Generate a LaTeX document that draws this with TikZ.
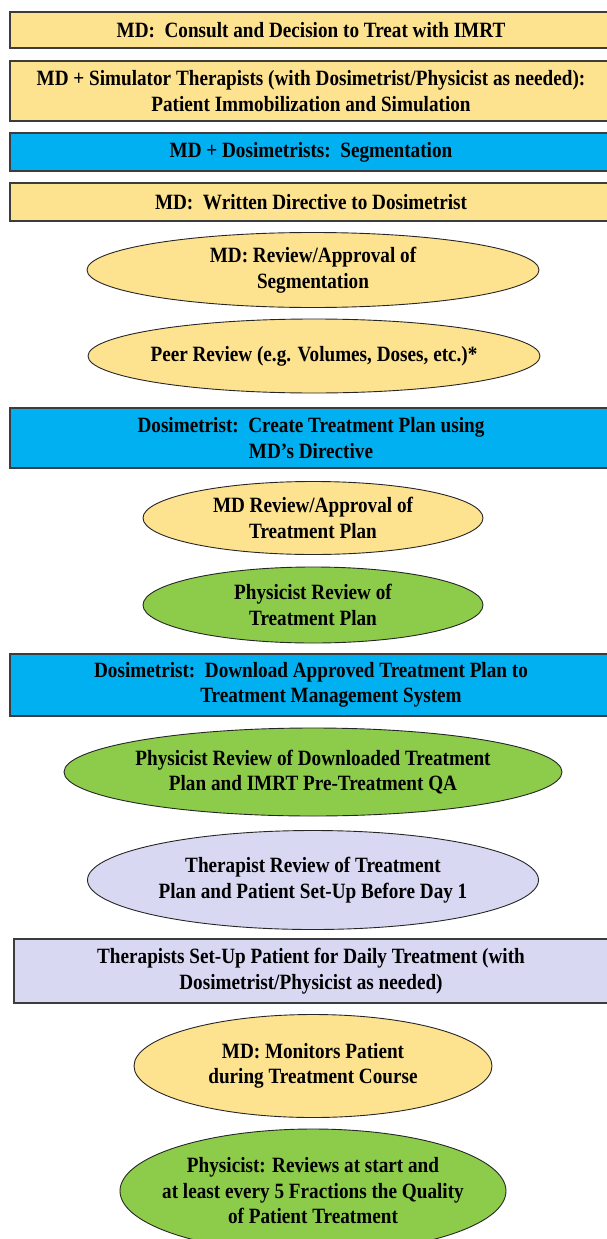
\documentclass[tikz,border=0pt]{standalone}
\usepackage{fontspec}
\setmainfont{Liberation Serif}[FakeStretch=0.88]
\usetikzlibrary{shapes.geometric}
\definecolor{yel}{RGB}{253,226,143}
\definecolor{blu}{RGB}{0,176,240}
\definecolor{grn}{RGB}{141,203,75}
\definecolor{lav}{RGB}{216,216,242}
\definecolor{edge}{RGB}{60,60,60}
\tikzset{
  txt/.style={font=\bfseries\fontsize{21.8}{25.5}\selectfont, align=center, text=black, inner sep=0pt},
  bar/.style={txt, rectangle, draw=edge, line width=1.6pt},
  oval/.style={ellipse, draw=black!85, line width=0.9pt, inner sep=0pt},
}
\begin{document}
\begin{tikzpicture}[x=1pt,y=-1pt]
\useasboundingbox (0,0) rectangle (607,1239);
\node[bar, fill=yel, minimum width=602pt, minimum height=36pt] (b1) at (311,30) {MD:\ \ Consult and Decision to Treat with IMRT};
\node[bar, fill=yel, minimum width=602pt, minimum height=60pt] (b2) at (311,91) {MD + Simulator Therapists (with Dosimetrist/Physicist as needed):\\Patient Immobilization and Simulation};
\node[bar, fill=blu, minimum width=602pt, minimum height=38pt] (b3) at (311,152) {MD + Dosimetrists:\ \ Segmentation};
\node[bar, fill=yel, minimum width=602pt, minimum height=38pt] (b4) at (311,202) {MD:\ \ Written Directive to Dosimetrist};
\node[oval, fill=yel, minimum width=452pt, minimum height=75pt] (e1) at (313,270) {};
\node[txt] (e1t) at (e1) {MD: Review/Approval of\\Segmentation};
\node[oval, fill=yel, minimum width=452pt, minimum height=74pt] (e2) at (314,356) {};
\node[txt] (e2t) at (e2) {Peer Review (e.g. Volumes, Doses, etc.)*};
\node[bar, fill=blu, minimum width=602pt, minimum height=60pt] (b5) at (311,438) {Dosimetrist:\ \ Create Treatment Plan using\\MD’s Directive};
\node[oval, fill=yel, minimum width=340pt, minimum height=73pt] (e3) at (313,518) {};
\node[txt] (e3t) at (e3) {MD Review/Approval of\\Treatment Plan};
\node[oval, fill=grn, minimum width=340pt, minimum height=76pt] (e4) at (313,605) {};
\node[txt] (e4t) at (e4) {Physicist Review of\\Treatment Plan};
\node[bar, fill=blu, minimum width=602pt, minimum height=62pt] (b6) at (311,685) {Dosimetrist:\ \ Download Approved Treatment Plan to\\\hspace*{40pt}Treatment Management System};
\node[oval, fill=grn, minimum width=498pt, minimum height=88pt] (e5) at (313,772) {};
\node[txt] (e5t) at (e5) {Physicist Review of Downloaded Treatment\\Plan and IMRT Pre-Treatment QA};
\node[oval, fill=lav, minimum width=451pt, minimum height=99pt] (e6) at (313,880) {};
\node[txt] (e6t) at (e6) {Therapist Review of Treatment\\Plan and Patient Set-Up Before Day 1};
\node[bar, fill=lav, minimum width=594pt, minimum height=64pt] (b7) at (311,971) {Therapists Set-Up Patient for Daily Treatment (with\\Dosimetrist/Physicist as needed)};
\node[oval, fill=yel, minimum width=358pt, minimum height=103pt] (e7) at (313,1066) {};
\node[txt] (e7t) at (e7) {MD: Monitors Patient\\during Treatment Course};
\node[oval, fill=grn, minimum width=386pt, minimum height=124pt] (e8) at (313,1191) {};
\node[txt] (e8t) at (e8) {Physicist: Reviews at start and\\at least every 5 Fractions the Quality\\of Patient Treatment};
\end{tikzpicture}
\end{document}
